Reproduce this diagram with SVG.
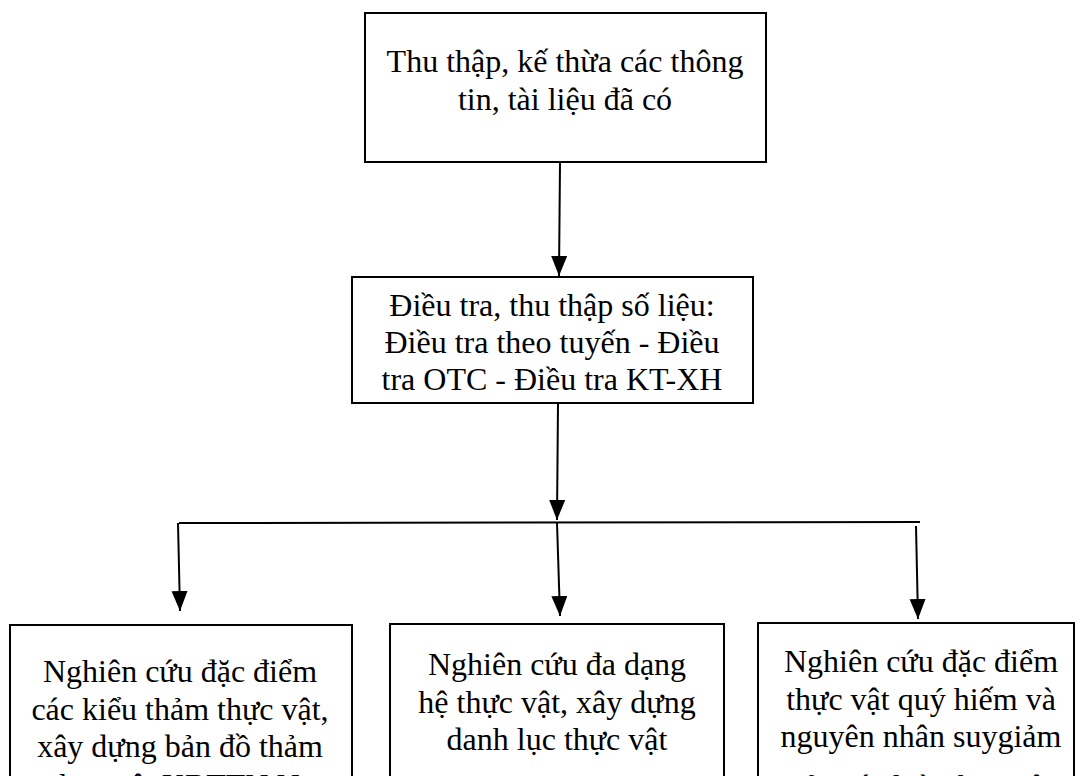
<svg xmlns="http://www.w3.org/2000/svg" width="1080" height="776" viewBox="0 0 1080 776">
<defs>
<style>
.box{fill:#fff;stroke:#000;stroke-width:2}
.t{font-family:"Liberation Serif","Times New Roman",serif;font-size:32px;fill:#000;text-anchor:middle}
.c{fill:none;stroke:#000;stroke-width:2}
</style>
<marker id="ah" markerUnits="userSpaceOnUse" markerWidth="22" markerHeight="18" refX="20" refY="8" orient="auto">
<path d="M0,0 L20,8 L0,16 z" fill="#000"/>
</marker>
</defs>
<rect width="1080" height="776" fill="#fff"/>
<g id="n1">
<rect class="box" x="365" y="13" width="401" height="149"/>
<text class="t" x="565" y="72">Thu thập, kế thừa các thông</text>
<text class="t" x="565" y="110">tin, tài liệu đã có</text>
</g>
<g id="n2">
<rect class="box" x="352" y="277" width="401" height="126"/>
<text class="t" x="552" y="316">Điều tra, thu thập số liệu:</text>
<text class="t" x="552" y="353">Điều tra theo tuyến - Điều</text>
<text class="t" x="552" y="390">tra OTC - Điều tra KT-XH</text>
</g>
<g id="n3">
<rect class="box" x="10" y="625" width="342" height="200"/>
<text class="t" x="180" y="682">Nghiên cứu đặc điểm</text>
<text class="t" x="180" y="720">các kiểu thảm thực vật,</text>
<text class="t" x="180" y="757">xây dựng bản đồ thảm</text>
<text class="t" x="182" y="796">thực vật KBTTN Na</text>
</g>
<g id="n4">
<rect class="box" x="390" y="624" width="334" height="200"/>
<text class="t" x="557" y="675">Nghiên cứu đa dạng</text>
<text class="t" x="557" y="713">hệ thực vật, xây dựng</text>
<text class="t" x="557" y="750">danh lục thực vật</text>
</g>
<g id="n5">
<rect class="box" x="758" y="623" width="316" height="200"/>
<text class="t" x="921" y="672">Nghiên cứu đặc điểm</text>
<text class="t" x="921" y="710">thực vật quý hiếm và</text>
<text class="t" x="921" y="747">nguyên nhân suygiảm</text>
<text class="t" x="921" y="797">của các loài thực vật</text>
</g>
<g id="connectors">
<line class="c" x1="560" y1="163" x2="559" y2="276" marker-end="url(#ah)"/>
<line class="c" x1="558" y1="404" x2="557" y2="520" marker-end="url(#ah)"/>
<line class="c" x1="179" y1="523" x2="920" y2="522"/>
<line class="c" x1="178" y1="523" x2="180" y2="611" marker-end="url(#ah)"/>
<line class="c" x1="557" y1="523" x2="560" y2="616" marker-end="url(#ah)"/>
<line class="c" x1="916" y1="526" x2="918" y2="619" marker-end="url(#ah)"/>
</g>
</svg>
